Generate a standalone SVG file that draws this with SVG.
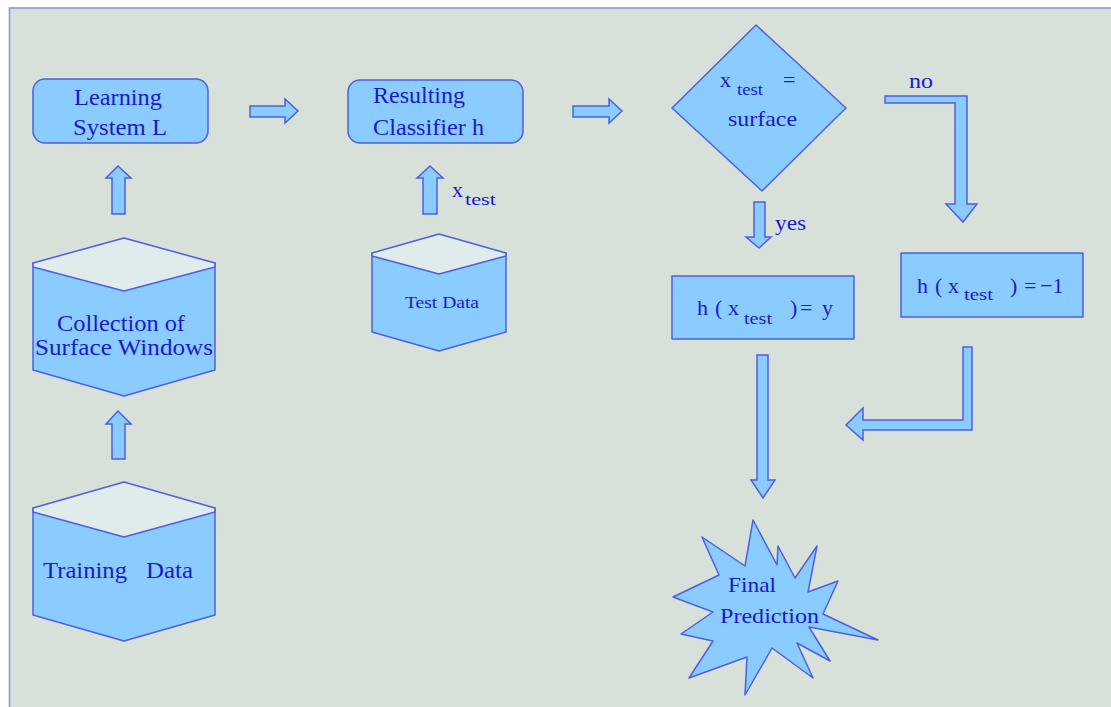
<svg xmlns="http://www.w3.org/2000/svg" width="1111" height="707" viewBox="0 0 1111 707">
<style>
.shape{fill:#8accff;stroke:#4f5fe0;stroke-width:1.5;stroke-linejoin:round}
.top{fill:#dfeceb;stroke:#4f5fe0;stroke-width:1.5;stroke-linejoin:round}
.arrow{fill:#8accff;stroke:#4f5fe0;stroke-width:1.5;stroke-linejoin:miter}
text{font-family:"Liberation Serif","Times New Roman",serif;fill:#1a1ac8}
.t24{font-size:23px}
.t22{font-size:22px}
.t20{font-size:21px}
.sub{font-size:17px}
.t17{font-size:17px}
</style>
<rect x="0" y="0" width="1111" height="707" fill="#ffffff"/>
<rect x="9.5" y="8" width="1110" height="710" fill="#d7e0d9" stroke="#8c8cee" stroke-width="1.5"/>

<g id="learning-system">
<rect class="shape" x="33" y="79" width="175" height="64" rx="12"/>
<text class="t24" x="74" y="105" textLength="88" lengthAdjust="spacingAndGlyphs">Learning</text>
<text class="t24" x="73" y="135" textLength="94" lengthAdjust="spacingAndGlyphs">System L</text>
</g>

<g id="resulting-classifier">
<rect class="shape" x="348" y="80" width="175" height="63" rx="12"/>
<text class="t24" x="373" y="103" textLength="92" lengthAdjust="spacingAndGlyphs">Resulting</text>
<text class="t24" x="373" y="135" textLength="111" lengthAdjust="spacingAndGlyphs">Classifier h</text>
</g>

<g id="decision">
<polygon class="shape" points="756,25 846,108 762,191 672,108"/>
<text class="t22" x="720" y="87">x</text>
<text class="sub" x="737" y="95" textLength="26" lengthAdjust="spacingAndGlyphs">test</text>
<text class="t22" x="783" y="87">=</text>
<text class="t22" x="728" y="126" textLength="69" lengthAdjust="spacingAndGlyphs">surface</text>
</g>

<g id="collection">
<polygon class="shape" points="33,263 33,370 124,396 215,370 215,263"/>
<polygon class="top" points="33,263 124,238 215,263 215,267 124,291 33,267"/>
<text class="t24" x="57" y="331" textLength="128" lengthAdjust="spacingAndGlyphs">Collection of</text>
<text class="t24" x="35" y="355" textLength="178" lengthAdjust="spacingAndGlyphs">Surface  Windows</text>
</g>

<g id="training-data">
<polygon class="shape" points="33,508 33,615 124,641 215,615 215,508"/>
<polygon class="top" points="33,508 124,482 215,508 215,512 124,537 33,512"/>
<text class="t24" x="43" y="578" textLength="84" lengthAdjust="spacingAndGlyphs">Training</text>
<text class="t24" x="146" y="578" textLength="47" lengthAdjust="spacingAndGlyphs">Data</text>
</g>

<g id="test-data">
<polygon class="shape" points="372,253 372,332 439,351 506,332 506,253"/>
<polygon class="top" points="372,253 439,234 506,253 506,256 439,274 372,256"/>
<text class="t17" x="405" y="308" textLength="74" lengthAdjust="spacingAndGlyphs">Test Data</text>
</g>

<g id="h-equals-y">
<rect class="shape" x="672" y="276" width="182" height="63"/>
<text class="t22" y="315"><tspan x="697">h</tspan><tspan x="715">(</tspan><tspan x="728">x</tspan></text>
<text class="sub" x="744" y="324" textLength="28" lengthAdjust="spacingAndGlyphs">test</text>
<text class="t22" y="315"><tspan x="790">)</tspan><tspan x="800">=</tspan><tspan x="822">y</tspan></text>
</g>

<g id="h-equals-minus1">
<rect class="shape" x="901" y="253" width="182" height="64"/>
<text class="t22" y="293"><tspan x="917">h</tspan><tspan x="935">(</tspan><tspan x="948">x</tspan></text>
<text class="sub" x="964" y="300" textLength="29" lengthAdjust="spacingAndGlyphs">test</text>
<text class="t22" y="293"><tspan x="1010">)</tspan><tspan x="1024">=</tspan><tspan x="1040">−1</tspan></text>
</g>

<g id="final-prediction">
<polygon class="shape" points="702,537 745,566 753,520 777,565 778,546 795,578 817,546 808,592 838,581 823,614 878,640 809,627 830,661 797,643 813,678 772,648 745,695 747,657 689,678 713,641 681,634 713,612 673,597 719,575"/>
<text class="t20" x="728" y="592" textLength="48" lengthAdjust="spacingAndGlyphs">Final</text>
<text class="t20" x="720" y="623" textLength="99" lengthAdjust="spacingAndGlyphs">Prediction</text>
</g>

<g id="connectors">
<polygon class="arrow" points="250,106 285,106 285,99 298,111 285,123 285,117 250,117"/>
<polygon class="arrow" points="573,106 609,106 609,99 622,111 609,123 609,117 573,117"/>
<polygon class="arrow" points="112,214 112,178 106,178 118,166 131,178 125,178 125,214"/>
<polygon class="arrow" points="112,459 112,424 106,424 118,411 131,424 125,424 125,459"/>
<polygon class="arrow" points="423,214 423,178 417,178 430,166 443,178 437,178 437,214"/>
<polygon class="arrow" points="754,202 765,202 765,237 771,237 759,248 746,237 754,237"/>
<polygon class="arrow" points="885,96 967,96 967,204 977,204 963,222 946,204 955,204 955,103 885,103"/>
<polygon class="arrow" points="757,355 768,355 768,480 775,480 763,498 751,480 757,480"/>
<polygon class="arrow" points="963,347 972,347 972,430 863,430 863,440 846,425 863,408 863,420 963,420"/>
<text class="t22" x="452" y="197">x</text>
<text class="sub" x="465" y="205" textLength="31" lengthAdjust="spacingAndGlyphs">test</text>
<text class="t20" x="775" y="230" textLength="31" lengthAdjust="spacingAndGlyphs">yes</text>
<text class="t20" x="909" y="88" textLength="24" lengthAdjust="spacingAndGlyphs">no</text>
</g>
</svg>
